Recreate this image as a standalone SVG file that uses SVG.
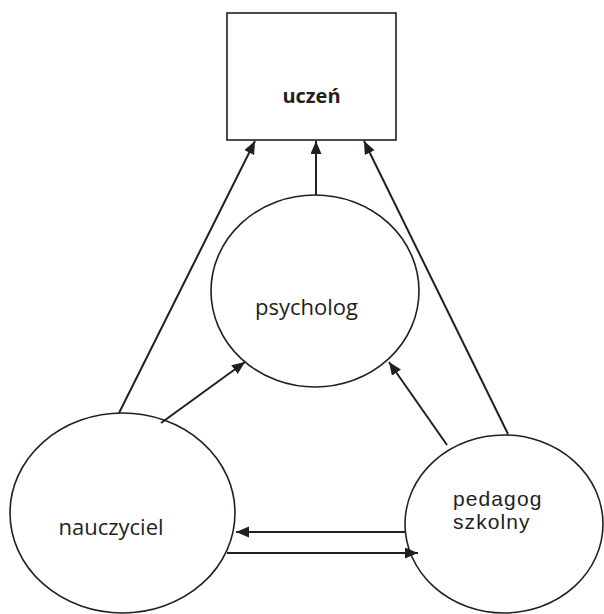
<svg xmlns="http://www.w3.org/2000/svg" width="604" height="614" viewBox="0 0 604 614">
  <style>
    .shape { fill: #ffffff; stroke: #231f20; stroke-width: 1.6; }
    .link { stroke: #231f20; stroke-width: 2; fill: none; marker-end: url(#arrow); }
    .lbl { font-family: "Open Sans", "Liberation Sans", sans-serif; font-size: 22px; fill: #231f20; text-anchor: middle; }
    .lbl-bold { font-size: 20px; font-weight: bold; }
    .lbl-arial { font-family: "Liberation Sans", Arial, sans-serif; font-size: 21px; letter-spacing: 1.1px; text-anchor: start; }
  </style>
  <defs>
    <marker id="arrow" markerUnits="userSpaceOnUse" markerWidth="14" markerHeight="12" refX="13" refY="5.5" orient="auto">
      <path d="M0,0 L13,5.5 L0,11 z" fill="#231f20"/>
    </marker>
  </defs>

  <g id="node-uczen">
    <rect class="shape" x="227" y="13" width="169" height="127"/>
    <text class="lbl lbl-bold" x="311.5" y="103">uczeń</text>
  </g>

  <g id="node-psycholog">
    <ellipse class="shape" cx="315" cy="291" rx="104" ry="96"/>
    <text class="lbl" x="306.5" y="315">psycholog</text>
  </g>

  <g id="node-nauczyciel">
    <ellipse class="shape" cx="122.5" cy="513" rx="112.5" ry="100"/>
    <text class="lbl" x="111" y="535">nauczyciel</text>
  </g>

  <g id="node-pedagog">
    <ellipse class="shape" cx="504" cy="524" rx="99" ry="89"/>
    <text class="lbl lbl-arial" x="453" y="506">pedagog</text>
    <text class="lbl lbl-arial" x="453" y="529">szkolny</text>
  </g>

  <g id="connectors">
    <line class="link" x1="119" y1="413" x2="255" y2="141"/>
    <line class="link" x1="316" y1="195" x2="316" y2="141"/>
    <line class="link" x1="508" y1="434" x2="364" y2="141"/>
    <line class="link" x1="161" y1="423" x2="245" y2="362"/>
    <line class="link" x1="447" y1="445" x2="389" y2="362"/>
    <line class="link" x1="405" y1="532" x2="236" y2="532"/>
    <line class="link" x1="227" y1="553" x2="418" y2="553"/>
  </g>
</svg>
